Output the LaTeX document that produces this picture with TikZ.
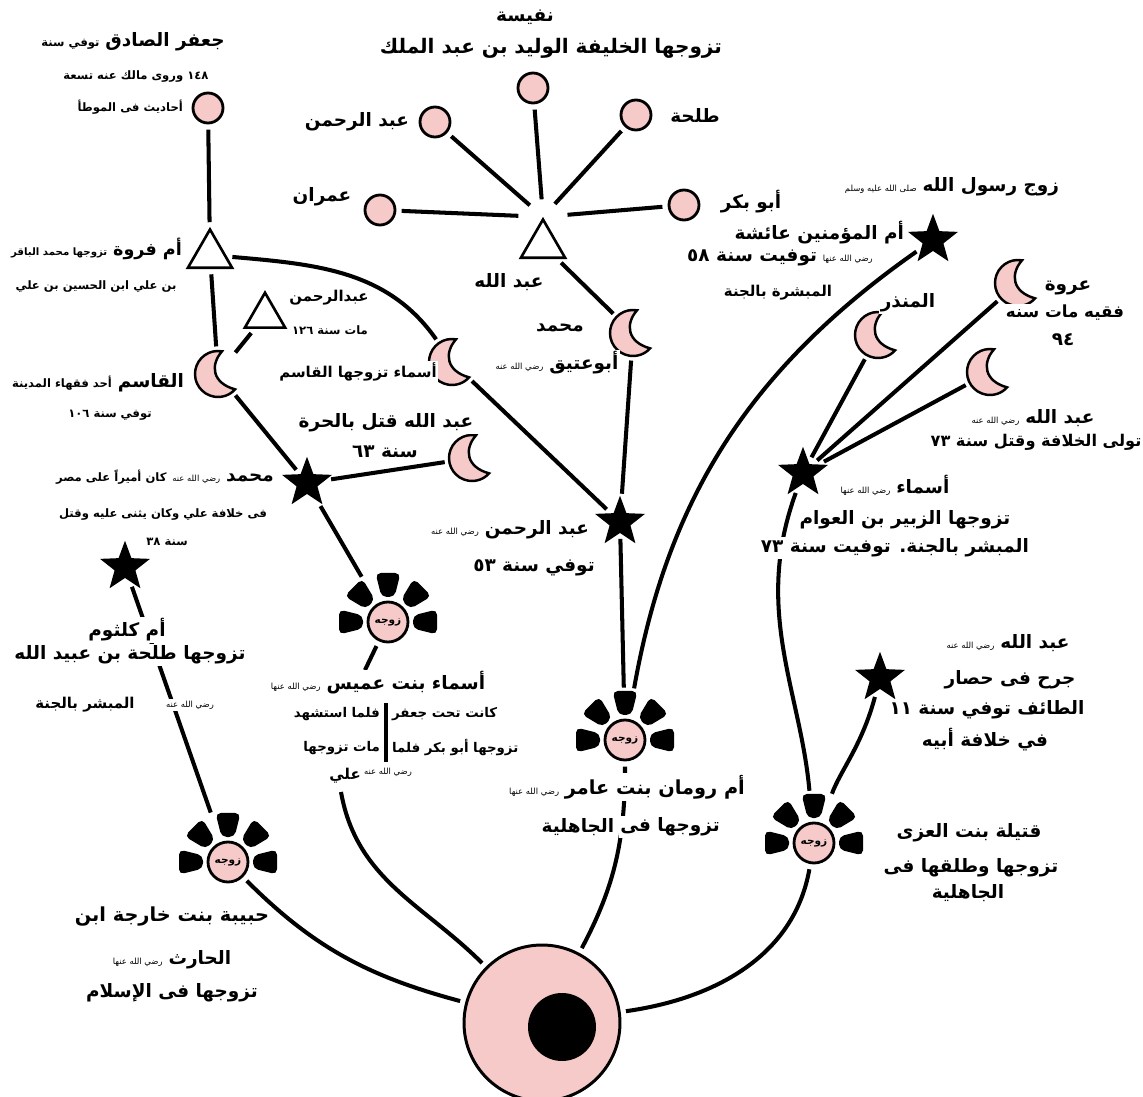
\documentclass[tikz,border=0pt]{standalone}
\usepackage{fontspec}
\newfontfamily\arabicfont[Script=Arabic]{DejaVu Sans}
\TeXXeTstate=1
\usetikzlibrary{shapes.geometric}

\definecolor{dotpink}{RGB}{247,202,202}

\newcommand{\rl}[1]{\beginR #1\endR}
\newcommand{\arnum}[1]{\beginL #1\endL{}}
\newcommand{\namefont}{\arabicfont\bfseries\fontsize{10.5}{12}\selectfont}
\newcommand{\midfont}{\arabicfont\bfseries\fontsize{8.5}{10}\selectfont}
\newcommand{\notefont}{\arabicfont\bfseries\fontsize{6.6}{8}\selectfont}
\newcommand{\anhu}{{\arabicfont\fontsize{4.8}{5}\selectfont رضي الله عنه}}
\newcommand{\anha}{{\arabicfont\fontsize{4.8}{5}\selectfont رضي الله عنها}}
\newcommand{\salla}{{\arabicfont\fontsize{4.8}{5}\selectfont صلى الله عليه وسلم}}

% crescent: name, centre
\newcommand{\moon}[2]{%
  \filldraw[moonline,shift={(#2)}] (80:23) arc[start angle=80,end angle=318,radius=23]
    .. controls (-6,-9) and (-8,9) .. cycle;
  \node[moonspot] (#1) at (#2) {};
}
% wife: name, centre
\newcommand{\flower}[2]{%
  \foreach \a in {0,45,90,135,180}
    \fill[shift={(#2)},rotate=\a,rounded corners=3pt] (25,-6.5) -- (49,-12.5) -- (49,12.5) -- (25,6.5) -- cycle;
  \node[bloom] (#1) at (#2) {\rl{زوجه}};
}

\begin{document}
\begin{tikzpicture}[x=0.02cm,y=0.02cm]
  \tikzset{
    link/.style={line width=2.3pt,shorten <=3pt,shorten >=3pt},
    tobloom/.style={shorten >=0.62cm},
    kid/.style={circle,draw,line width=1.6pt,fill=dotpink,minimum size=0.6cm,inner sep=0pt},
    tri/.style={regular polygon,regular polygon sides=3,draw,line width=1.5pt,fill=white,minimum size=1.02cm,inner sep=0pt},
    starn/.style={star,star points=5,star point ratio=2.4,fill=black,minimum size=1.05cm,inner sep=0pt},
    moonline/.style={draw=black,line width=1.4pt,fill=dotpink},
    moonspot/.style={circle,minimum size=0.88cm,inner sep=0pt},
    bloom/.style={circle,draw,line width=1.6pt,fill=dotpink,minimum size=0.8cm,inner sep=0pt,font=\arabicfont\bfseries\fontsize{6}{7}\selectfont},
    lbl/.style={fill=white,inner sep=1pt}
  }
  \useasboundingbox (0,0) rectangle (1143,-1097);

  % Abu Bakr
  \node[circle,draw,line width=1.7pt,fill=dotpink,minimum size=3.12cm] (bigc) at (542,-1023) {};
  \node[circle,fill=black,minimum size=1.36cm,inner sep=0pt] (bigcore) at (562,-1027) {};

  % wives
  \flower{habiba}{228,-862}
  \flower{asmau}{388,-622}
  \flower{ummruman}{625,-740}
  \flower{qutayla}{814,-843}

  % stars
  \node[starn] (muhammad) at (307,-483) {};
  \node[starn] (ummkulthum) at (125,-567) {};
  \node[starn] (abdrahmanS) at (620,-522) {};
  \node[starn] (aisha) at (933,-240) {};
  \node[starn] (asmaz) at (803,-473) {};
  \node[starn] (abdallahTaif) at (880,-678) {};

  % crescents
  \moon{qasim}{218,-374}
  \moon{asmaq}{452,-362}
  \moon{abuatiq}{633,-333}
  \moon{harra}{472,-458}
  \moon{urwa}{1018,-283}
  \moon{mundhir}{878,-335}
  \moon{abdallahz}{990,-372}

  % triangles
  \node[tri] (ummfarwa) at (210,-255) {};
  \node[tri,minimum size=0.93cm] (abdrahmanB) at (265,-316) {};
  \node[tri] (abdallahT) at (543,-245) {};

  % circles
  \node[kid] (jafar) at (208,-108) {};
  \node[kid] (nafisa) at (533,-88) {};
  \node[kid] (abdrahmanA) at (435,-122) {};
  \node[kid] (talha) at (636,-115) {};
  \node[kid] (imran) at (380,-210) {};
  \node[kid] (abubakr) at (684,-205) {};

  % free ends of the line that runs under Asma bint Umais' note
  \coordinate (asmauStem) at (365,-670);
  \coordinate (asmauFoot) at (341,-792);
  \coordinate (barTop) at (386,-703);
  \coordinate (barEnd) at (386,-762);

  \path[link]
    (nafisa) edge[shorten >=10pt] (abdallahT.north)
    (abdrahmanA) edge[shorten >=10pt] (abdallahT.north)
    (talha) edge[shorten >=10pt] (abdallahT.north)
    (imran) edge[shorten >=14pt] (abdallahT.north)
    (abubakr) edge[shorten >=14pt] (abdallahT.north)
    (abdallahT) edge (abuatiq)
    (jafar) edge (ummfarwa)
    (ummfarwa) edge (qasim)
    (ummfarwa) edge[out=-5,in=125] (asmaq)
    (qasim) edge (abdrahmanB)
    (qasim) edge (muhammad)
    (muhammad) edge (harra)
    (muhammad) edge[tobloom] (asmau)
    (asmaq) edge (abdrahmanS)
    (abuatiq) edge (abdrahmanS)
    (abdrahmanS) edge[tobloom] (ummruman)
    (aisha) edge[tobloom,out=215,in=80] (ummruman)
    (asmaz) edge (mundhir)
    (asmaz) edge (urwa)
    (asmaz) edge (abdallahz)
    (asmaz) edge[tobloom,out=250,in=95] (qutayla)
    (abdallahTaif) edge[tobloom,out=-105,in=70] (qutayla)
    (ummkulthum) edge[tobloom] (habiba)
    (ummruman) edge[out=-90,in=62] (bigc)
    (asmau) edge[shorten >=0pt] (asmauStem)
    (asmauFoot) edge[shorten <=0pt,out=-80,in=135] (bigc)
    (habiba) edge[out=-45,in=165] (bigc)
    (qutayla) edge[out=-100,in=8] (bigc);

  % labels, top
  \node[lbl] (nafisaA) at (525,-17) {\rl{\namefont نفيسة}};
  \node[lbl] (nafisaB) at (551,-48) {\rl{\arabicfont\bfseries\fontsize{11.4}{13}\selectfont تزوجها الخليفة الوليد بن عبد الملك}};
  \node[lbl] (abdrahmanAt) at (357,-122) {\rl{\namefont عبد الرحمن}};
  \node[lbl] (talhat) at (695,-115) {\rl{\namefont طلحة}};
  \node[lbl] (imrant) at (322,-197) {\rl{\namefont عمران}};
  \node[lbl] (abubakrt) at (751,-202) {\rl{\namefont أبو بكر}};
  \node[lbl] (abdallahTt) at (509,-282) {\rl{\namefont عبد الله}};

  % left
  \node[lbl] (jafarA) at (133,-42) {\rl{{\namefont جعفر الصادق} {\notefont توفي سنة}}};
  \node[lbl] (jafarB) at (136,-77) {\rl{\notefont \arnum{١٤٨} وروى مالك عنه تسعة}};
  \node[lbl,anchor=east] (jafarC) at (185,-107) {\rl{\notefont أحاديث فى الموطأ}};
  \node[lbl,anchor=east] (ummfarwaA) at (184,-249) {\rl{{\arabicfont\bfseries\fontsize{10}{12}\selectfont أم فروة} {\arabicfont\bfseries\fontsize{5.8}{7}\selectfont تزوجها محمد الباقر}}};
  \node[lbl] (ummfarwaB) at (96,-287) {\rl{\notefont بن علي ابن الحسين بن علي}};
  \node[lbl] (abdrahmanBA) at (329,-298) {\rl{\midfont عبدالرحمن}};
  \node[lbl] (abdrahmanBB) at (330,-330) {\rl{\notefont مات سنة \arnum{١٢٦}}};
  \node[lbl,anchor=east] (qasimA) at (186,-383) {\rl{{\namefont القاسم} {\notefont أحد فقهاء المدينة}}};
  \node[lbl] (qasimB) at (110,-415) {\rl{\notefont توفي سنة \arnum{١٠٦}}};
  \node[lbl] (asmaqA) at (358,-372) {\rl{\midfont أسماء تزوجها القاسم}};
  \node[lbl] (abuatiqA) at (560,-328) {\rl{\namefont محمد}};
  \node[lbl] (abuatiqB) at (557,-363) {\rl{{\namefont أبوعتيق} \anhu}};
  \node[lbl] (harraA) at (386,-423) {\rl{\namefont عبد الله قتل بالحرة}};
  \node[lbl] (harraB) at (385,-452) {\rl{\namefont سنة \arnum{٦٣}}};
  \node[lbl] (muhammadA) at (165,-477) {\rl{{\namefont محمد} \anhu{} {\notefont كان أميراً على مصر}}};
  \node[lbl] (muhammadB) at (163,-515) {\rl{\notefont فى خلافة علي وكان يثنى عليه وقتل}};
  \node[lbl] (muhammadC) at (167,-542) {\rl{\notefont سنة \arnum{٣٨}}};
  \node[lbl] (abdrahmanSA) at (510,-530) {\rl{{\namefont عبد الرحمن} \anhu}};
  \node[lbl] (abdrahmanSB) at (534,-568) {\rl{\namefont توفي سنة \arnum{٥٣}}};
  \node[lbl] (ummkulthumA) at (127,-630) {\rl{\namefont أم كلثوم}};
  \node[lbl] (ummkulthumB) at (130,-655) {\rl{\namefont تزوجها طلحة بن عبيد الله}};
  \node[lbl] (ummkulthumC) at (190,-705) {\rl{\anhu}};
  \node[lbl] (ummkulthumD) at (85,-705) {\rl{\midfont المبشر بالجنة}};
  \node[lbl] (habibaA) at (172,-917) {\rl{\arabicfont\bfseries\fontsize{11}{12}\selectfont حبيبة بنت خارجة ابن}};
  \node[lbl] (habibaB) at (172,-960) {\rl{{\namefont الحارث} \anha}};
  \node[lbl] (habibaC) at (172,-993) {\rl{\namefont تزوجها فى الإسلام}};
  \node[lbl] (asmauA) at (378,-683) {\rl{{\namefont أسماء بنت عميس} \anha}};
  \node[lbl,anchor=west] (asmauB) at (390,-714) {\rl{\arabicfont\bfseries\fontsize{7.6}{9}\selectfont كانت تحت جعفر}};
  \node[lbl,anchor=east] (asmauC) at (382,-714) {\rl{\arabicfont\bfseries\fontsize{7.6}{9}\selectfont فلما استشهد}};
  \node[lbl,anchor=west] (asmauD) at (390,-748) {\rl{\arabicfont\bfseries\fontsize{7.6}{9}\selectfont تزوجها أبو بكر فلما}};
  \node[lbl,anchor=east] (asmauE) at (382,-748) {\rl{\arabicfont\bfseries\fontsize{7.6}{9}\selectfont مات تزوجها}};
  \node[lbl] (asmauF) at (345,-776) {\rl{\midfont علي}};
  \node[lbl] (asmauG) at (388,-772) {\rl{\anhu}};
  \node[lbl] (ummrumanA) at (627,-787) {\rl{{\arabicfont\bfseries\fontsize{11}{12}\selectfont أم رومان بنت عامر} \anha}};
  \node[lbl] (ummrumanB) at (670,-827) {\rl{\namefont تزوجها فى}};
  \node[lbl] (ummrumanC) at (578,-827) {\rl{\namefont الجاهلية}};

  % the rule between the two columns of Asma bint Umais' note
  \path[link] (barTop) edge[shorten <=0pt,shorten >=0pt] (barEnd);

  % right
  \node[lbl] (rasul) at (952,-187) {\rl{{\namefont زوج رسول الله} \salla}};
  \node[lbl,anchor=east] (aishaA) at (906,-233) {\rl{\namefont أم المؤمنين عائشة}};
  \node[lbl] (aishaB) at (780,-258) {\rl{\anha{} {\namefont توفيت سنة \arnum{٥٨}}}};
  \node[lbl] (aishaC) at (778,-293) {\rl{\midfont المبشرة بالجنة}};
  \node[lbl] (urwaA) at (1068,-288) {\rl{\namefont عروة}};
  \node[lbl] (urwaB) at (1065,-313) {\rl{\arabicfont\bfseries\fontsize{9.5}{11}\selectfont فقيه مات سنه}};
  \node[lbl] (urwaC) at (1063,-340) {\rl{\namefont \arnum{٩٤}}};
  \node[lbl] (mundhirA) at (908,-303) {\rl{\namefont المنذر}};
  \node[lbl] (abdallahzA) at (1033,-418) {\rl{{\namefont عبد الله} \anhu}};
  \node[lbl] (abdallahzB) at (1036,-442) {\rl{\arabicfont\bfseries\fontsize{9.2}{11}\selectfont تولى الخلافة وقتل سنة \arnum{٧٣}}};
  \node[lbl] (asmazA) at (895,-485) {\rl{{\namefont أسماء} \anha}};
  \node[lbl] (asmazB) at (905,-520) {\rl{\namefont تزوجها الزبير بن العوام}};
  \node[lbl] (asmazC) at (895,-548) {\rl{\namefont المبشر بالجنة. توفيت سنة \arnum{٧٣}}};
  \node[lbl] (abdallahTaifA) at (1008,-643) {\rl{{\namefont عبد الله} \anhu}};
  \node[lbl] (abdallahTaifB) at (1010,-680) {\rl{\namefont جرح فى حصار}};
  \node[lbl] (abdallahTaifC) at (987,-710) {\rl{\namefont الطائف توفي سنة \arnum{١١}}};
  \node[lbl] (abdallahTaifD) at (985,-740) {\rl{\namefont في خلافة أبيه}};
  \node[lbl] (qutaylaA) at (969,-833) {\rl{\namefont قتيلة بنت العزى}};
  \node[lbl] (qutaylaB) at (971,-868) {\rl{\namefont تزوجها وطلقها فى}};
  \node[lbl] (qutaylaC) at (968,-893) {\rl{\namefont الجاهلية}};
\end{tikzpicture}
\end{document}
